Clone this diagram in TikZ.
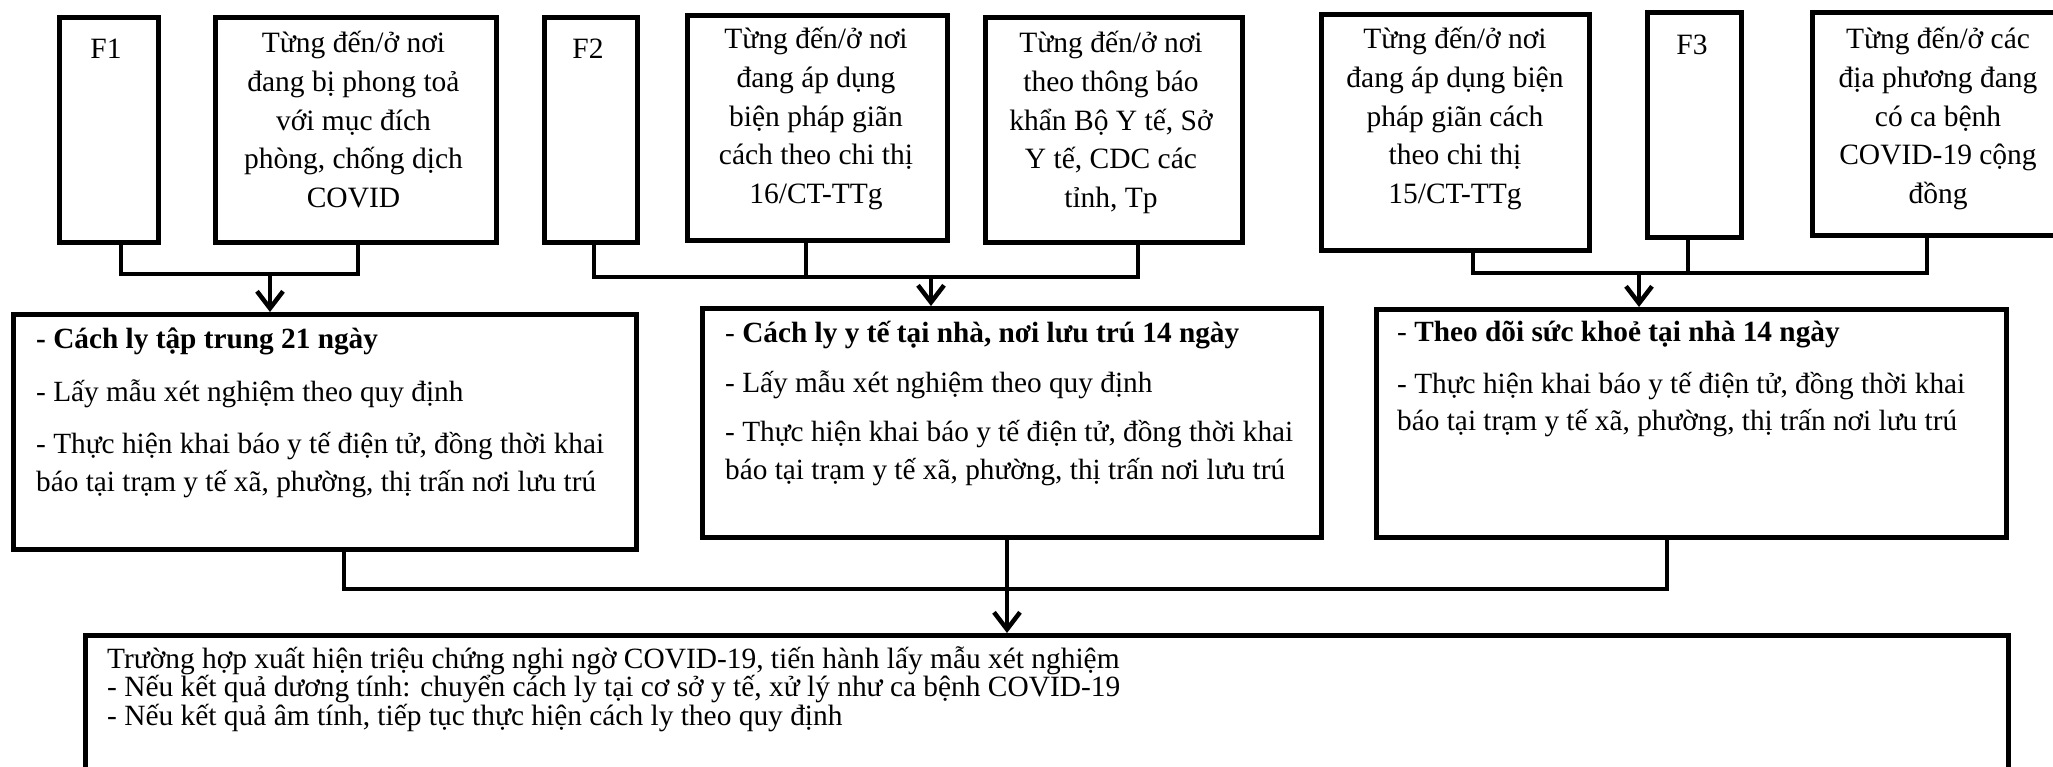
\documentclass[tikz,border=0pt]{standalone}
\usepackage{fontspec}
\setmainfont{Liberation Serif}
\usetikzlibrary{arrows.meta}
\tikzset{
  box/.style={draw=black, line width=5pt, rectangle, inner sep=0pt, anchor=north west},
  ttext/.style={anchor=north, align=center, inner sep=0pt, font=\fontsize{29.5}{38.8}\selectfont, execute at begin node=\strut},
  mtext/.style={anchor=north west, align=left, inner sep=0pt, font=\fontsize{29.3}{37.5}\selectfont, execute at begin node=\strut},
  btext/.style={anchor=north west, align=left, inner sep=0pt, font=\fontsize{29.4}{27}\selectfont, execute at begin node=\strut},
  conn/.style={line width=4.5pt},
  lconn/.style={line width=4pt},
  arr/.style={line width=4.5pt, -{Straight Barb[length=17pt,width=26pt]}},
}
\begin{document}
\begin{tikzpicture}[x=1pt,y=-1pt]
\useasboundingbox (0,0) rectangle (2053,766);
\clip (0,0) rectangle (2053,766);
\fill[white] (0,0) rectangle (2053,766);

% top row boxes
\node[box, minimum width=99pt,  minimum height=225pt] (F1)  at (57,15) {};
\node[box, minimum width=281pt, minimum height=225pt] (PT)  at (213,15) {};
\node[box, minimum width=93pt,  minimum height=225pt] (F2)  at (542,15) {};
\node[box, minimum width=260pt, minimum height=225pt] (C16) at (685,13) {};
\node[box, minimum width=257pt, minimum height=225pt] (TB)  at (983,15) {};
\node[box, minimum width=268pt, minimum height=236pt] (C15) at (1319,12) {};
\node[box, minimum width=94pt,  minimum height=225pt] (F3)  at (1645,10) {};
\node[box, minimum width=260pt, minimum height=223pt] (DP)  at (1810,10) {};

% top row texts
\node[ttext] (tF1)  at (106,31) {F1};
\node[ttext] (tPT)  at (353.5,31) {Từng đến/ở nơi\\đang bị phong toả\\với mục đích\\phòng, chống dịch\\COVID};
\node[ttext] (tF2)  at (588,31) {F2};
\node[ttext] (tC16) at (816,27) {Từng đến/ở nơi\\đang áp dụng\\biện pháp giãn\\cách theo chi thị\\16/CT-TTg};
\node[ttext] (tTB)  at (1111,31) {Từng đến/ở nơi\\theo thông báo\\khẩn Bộ Y tế, Sở\\Y tế, CDC các\\tỉnh, Tp};
\node[ttext] (tC15) at (1455,27) {Từng đến/ở nơi\\đang áp dụng biện\\pháp giãn cách\\theo chi thị\\15/CT-TTg};
\node[ttext] (tF3)  at (1692,27) {F3};
\node[ttext] (tDP)  at (1938,27) {Từng đến/ở các\\địa phương đang\\có ca bệnh\\COVID-19 cộng\\đồng};

% middle boxes
\node[box, minimum width=623pt, minimum height=235pt] (M1) at (11,312) {};
\node[box, minimum width=619pt, minimum height=229pt] (M2) at (700,306) {};
\node[box, minimum width=630pt, minimum height=228pt] (M3) at (1374,307) {};

\node[mtext] (tM1) at (36,328) {\textbf{- Cách ly tập trung 21 ngày}\\[15pt]- Lấy mẫu xét nghiệm theo quy định\\[15pt]- Thực hiện khai báo y tế điện tử, đồng thời khai\\báo tại trạm y tế xã, phường, thị trấn nơi lưu trú};
\node[mtext] (tM2) at (725,321) {- \textbf{Cách ly y tế tại nhà, nơi lưu trú 14 ngày}\\[12pt]- Lấy mẫu xét nghiệm theo quy định\\[12pt]- Thực hiện khai báo y tế điện tử, đồng thời khai\\báo tại trạm y tế xã, phường, thị trấn nơi lưu trú};
\node[mtext] (tM3) at (1397,321) {- \textbf{Theo dõi sức khoẻ tại nhà 14 ngày}\\[14pt]- Thực hiện khai báo y tế điện tử, đồng thời khai\\báo tại trạm y tế xã, phường, thị trấn nơi lưu trú};

% bottom box
\node[box, minimum width=1923pt, minimum height=200pt] (B) at (83,633) {};
\node[btext] (tB) at (107,646) {Trường hợp xuất hiện triệu chứng nghi ngờ COVID-19, tiến hành lấy mẫu xét nghiệm\\- Nếu kết quả dương tính: chuyển cách ly tại cơ sở y tế, xử lý như ca bệnh COVID-19\\- Nếu kết quả âm tính, tiếp tục thực hiện cách ly theo quy định};

% connector coordinates
\coordinate (a1) at (121,274);
\coordinate (a2) at (358,274);
\coordinate (j1) at (270,274);
\coordinate (b1) at (594,277);
\coordinate (b2) at (806,277);
\coordinate (b3) at (1138,277);
\coordinate (j2) at (931,277);
\coordinate (c1) at (1473,273);
\coordinate (c2) at (1688,273);
\coordinate (c3) at (1927,273);
\coordinate (j3) at (1639,273);
\coordinate (d1) at (344,589);
\coordinate (d3) at (1667,589);
\coordinate (j4) at (1007,589);

% group 1
\draw[conn] (F1.south -| a1) -- (a1) -- (a2) -- (PT.south -| a2);
\draw[arr] (j1) -- (M1.north -| j1);
% group 2
\draw[conn] (F2.south -| b1) -- (b1) -- (b3) -- (TB.south -| b3);
\draw[conn] (C16.south -| b2) -- (b2);
\draw[arr] (j2) -- (M2.north -| j2);
% group 3
\draw[conn] (C15.south -| c1) -- (c1) -- (c3) -- (DP.south -| c3);
\draw[conn] (F3.south -| c2) -- (c2);
\draw[arr] (j3) -- (M3.north -| j3);
% lower group
\draw[lconn] (M1.south -| d1) -- (d1) -- (d3) -- (M3.south -| d3);
\draw[lconn] (M2.south -| j4) -- (j4);
\draw[arr] (j4) -- (B.north -| j4);
\end{tikzpicture}
\end{document}
